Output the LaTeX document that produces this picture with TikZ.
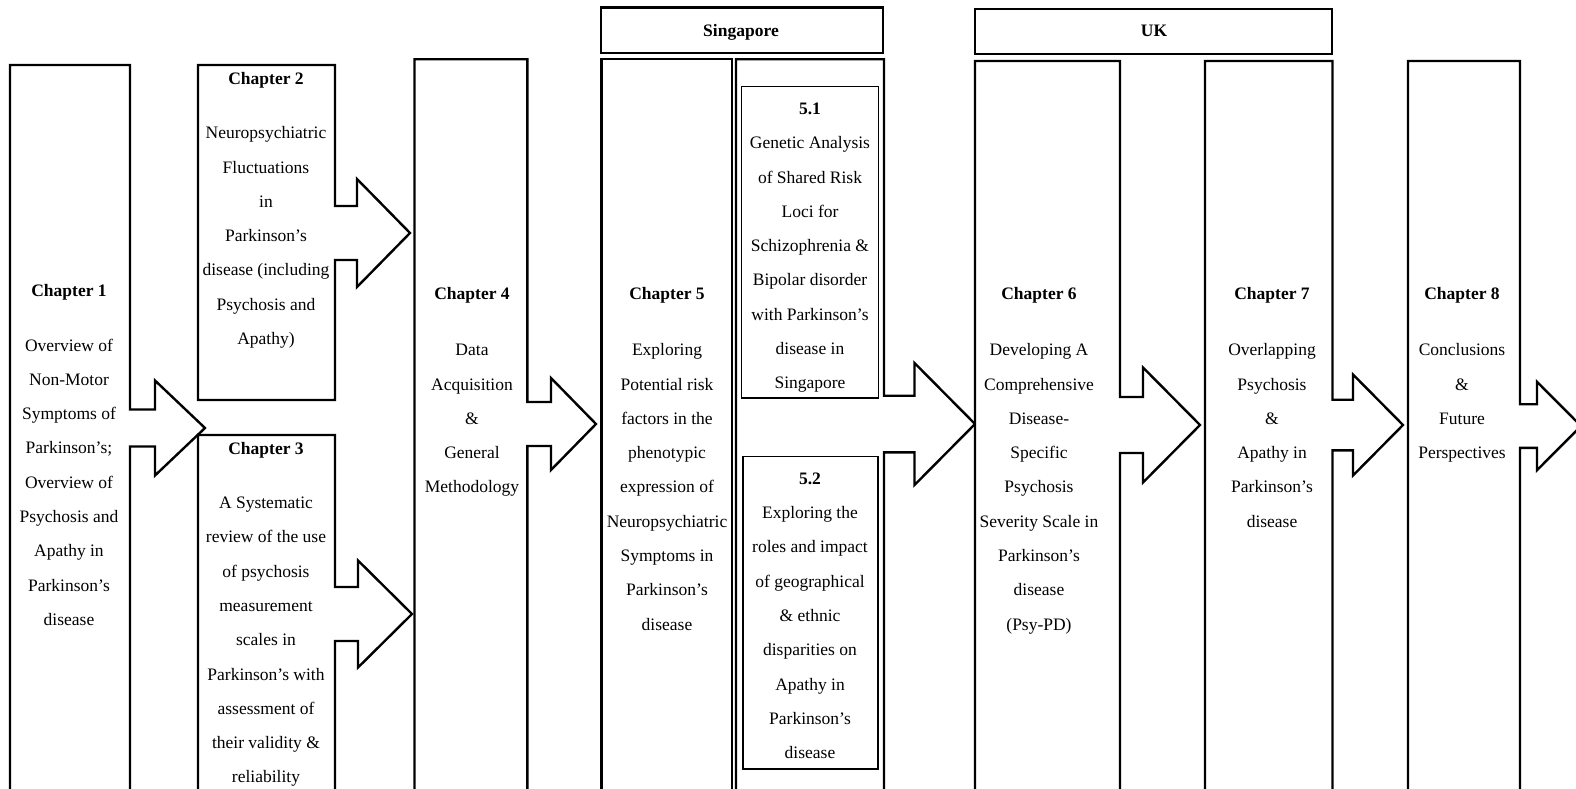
\documentclass[tikz,border=0pt]{standalone}
\usepackage{fontspec}
\setmainfont{Liberation Serif}
% column with an arrow on its right edge:
% #1 left, #2 top, #3 right, #4 bottom, #5 notch x, #6 tip x, #7 arrow axis y, #8 shaft half-height, #9 head half-height
\newcommand\chapcolumn[9]{%
  \draw[colline] (#1,#2) -- (#3,#2) -- (#3,#7-#8) -- (#5,#7-#8) -- (#5,#7-#9)
    -- (#6,#7) -- (#5,#7+#9) -- (#5,#7+#8) -- (#3,#7+#8) -- (#3,#4) -- (#1,#4) -- cycle;}
% line pitch of the body texts
\newcommand\lp{34.3}
\tikzset{
  colline/.style={line width=2.4pt, line join=miter, fill=white},
  subbox/.style={line width=1.4pt},
  % multi-line texts are placed by the baseline of their last line
  bodytext/.style={align=center, anchor=base, inner sep=0pt,
    font=\fontsize{17.5}{34.3}\selectfont},
  titletext/.style={anchor=base, inner sep=0pt,
    font=\fontsize{17.5}{34.3}\selectfont\bfseries},
}
\begin{document}
\begin{tikzpicture}[x=1pt, y=-1pt]
\useasboundingbox (0,0) rectangle (1576,789);
\clip (0,0) rectangle (1576,789);
\fill[white] (0,0) rectangle (1576,789);

% region headers
\draw[colline] (601,7.5) rectangle (883,53.3);
\node[titletext] (sg) at (741,37) {Singapore};
\draw[colline] (975,9.3) rectangle (1331.7,54.3);
\node[titletext] (uk) at (1154,37) {UK};

% chapter columns
\chapcolumn{10}{65}{130}{800}{155}{205}{428}{18.5}{47.5}
\chapcolumn{198}{65}{335}{400}{357}{410}{233}{27}{54}
\chapcolumn{198}{435}{335}{800}{358}{412}{614}{27}{53.5}
\chapcolumn{414.5}{59.3}{527.4}{800}{551}{596}{424}{22}{46}
\draw[colline] (601.5,59.3) rectangle (732,800);
\chapcolumn{736}{59.3}{884}{800}{914.5}{975}{424}{28.3}{61}
\chapcolumn{975}{61}{1120}{800}{1143}{1200}{425}{28}{57.5}
\chapcolumn{1205}{61}{1332.5}{800}{1353}{1403}{425}{25.3}{50.5}
\chapcolumn{1408}{61}{1520}{800}{1537}{1581}{426}{21.8}{44.2}

% sub-study boxes inside chapter 5
\draw[subbox] (741.7,86.7) rectangle (878.4,398);
\draw[subbox] (743,456.7) rectangle (878,769);

% texts
\node[titletext] (c1) at (69,296.5) {Chapter 1};
\node[bodytext] (c1b) at (69,351+8*\lp) {Overview of\\Non-Motor\\Symptoms of\\Parkinson’s;\\Overview of\\Psychosis and\\Apathy in\\Parkinson’s\\disease};

\node[titletext] (c2) at (266,84.4) {Chapter 2};
\node[bodytext] (c2b) at (266,138.7+6*\lp) {Neuropsychiatric\\Fluctuations\\in\\Parkinson’s\\disease (including\\Psychosis and\\Apathy)};

\node[titletext] (c3) at (266,454.2) {Chapter 3};
\node[bodytext] (c3b) at (266,508.5+8*\lp) {A Systematic\\review of the use\\of psychosis\\measurement\\scales in\\Parkinson’s with\\assessment of\\their validity \&\\reliability};

\node[titletext] (c4) at (472,299.5) {Chapter 4};
\node[bodytext] (c4b) at (472,355.7+4*\lp) {Data\\Acquisition\\\&\\General\\Methodology};

\node[titletext] (c5) at (667,299.5) {Chapter 5};
\node[bodytext] (c5b) at (667,355.7+8*\lp) {Exploring\\Potential risk\\factors in the\\phenotypic\\expression of\\Neuropsychiatric\\Symptoms in\\Parkinson’s\\disease};

\node[titletext] (s51) at (810,114.5) {5.1};
\node[bodytext] (s51b) at (810,148.7+7*\lp) {Genetic Analysis\\of Shared Risk\\Loci for\\Schizophrenia \&\\Bipolar disorder\\with Parkinson’s\\disease in\\Singapore};

\node[titletext] (s52) at (810,484.4) {5.2};
\node[bodytext] (s52b) at (810,518.6+7*\lp) {Exploring the\\roles and impact\\of geographical\\\& ethnic\\disparities on\\Apathy in\\Parkinson’s\\disease};

\node[titletext] (c6) at (1039,299.5) {Chapter 6};
\node[bodytext] (c6b) at (1039,355.7+8*\lp) {Developing A\\Comprehensive\\Disease-\\Specific\\Psychosis\\Severity Scale in\\Parkinson’s\\disease\\(Psy-PD)};

\node[titletext] (c7) at (1272,299.5) {Chapter 7};
\node[bodytext] (c7b) at (1272,355.7+5*\lp) {Overlapping\\Psychosis\\\&\\Apathy in\\Parkinson’s\\disease};

\node[titletext] (c8) at (1462,299.5) {Chapter 8};
\node[bodytext] (c8b) at (1462,355.7+3*\lp) {Conclusions\\\&\\Future\\Perspectives};
\end{tikzpicture}
\end{document}
